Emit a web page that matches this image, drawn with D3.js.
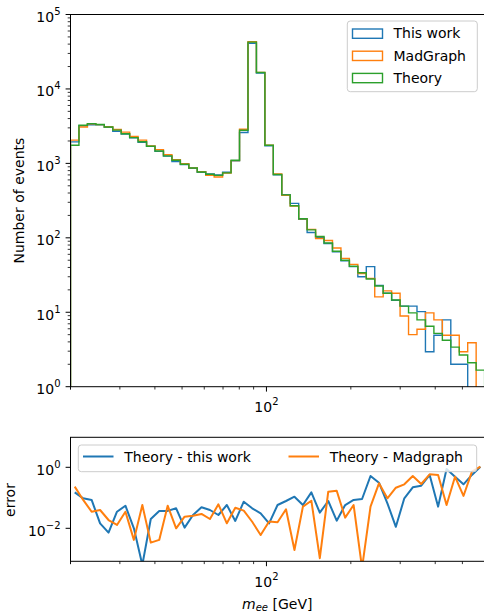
<!DOCTYPE html>
<html>
<head>
<meta charset="utf-8">
<script src="https://cdn.jsdelivr.net/npm/d3@7"></script>
<style>
  html, body { margin: 0; padding: 0; background: #fff; }
  svg { display: block; font-family: "DejaVu Sans", sans-serif; }
</style>
</head>
<body>
<svg id="chart" width="484" height="614"></svg>
<script>
// m_ee histogram (log bins 20..600 GeV) + relative error panel

const BIN_MIN = 20;
const BIN_MAX = 600;
const N_BINS = 49;

// counts per bin
const thisWork = [
  1945, 3200, 3300, 3300, 3050, 2700, 2480, 2200, 1920, 1690,
  1450, 1250, 1060, 965, 860, 760, 720, 700, 760, 1080,
  2600, 41000, 16400, 1720, 700, 380, 290, 178, 118, 101,
  84, 65, 49, 41, 30, 41, 23, 18, 14.5, 12.1,
  12.1, 10.2, 2.95, 4.9, 7.9, 2, 2, 0, 0
];
const madGraph = [
  2050, 3080, 3400, 3320, 3100, 2850, 2630, 2300, 2050, 1720,
  1530, 1310, 1120, 990, 870, 775, 690, 655, 740, 1090,
  2880, 43000, 16700, 1760, 720, 372, 268, 180, 130, 98,
  92, 73, 53, 44, 33, 28.5, 16.1, 19.4, 18, 8.9,
  5.0, 5.9, 9.8, 7.9, 4.9, 4.9, 2.95, 3.9, 0
];
const theory = [
  1750, 3260, 3420, 3330, 3080, 2800, 2500, 2220, 1950, 1700,
  1470, 1260, 1100, 975, 865, 765, 715, 690, 745, 1100,
  2790, 42500, 16600, 1750, 710, 378, 270, 180, 128, 104,
  85, 66, 50, 41.5, 34, 28, 22.5, 18, 14.6, 12.1,
  9.8, 7.9, 6.5, 5.2, 4.2, 3.4, 2.66, 2.1, 1.67
];

// error per bin (bottom panel)
const errThisWork = [
  0.151, 0.0962, 0.0851, 0.0145, 0.00724, 0.035, 0.055, 0.010, 0.00063, 0.0202,
  0.0372, 0.0372, 0.0452, 0.0105, 0.0273, 0.049, 0.0398, 0.0273, 0.058, 0.0174,
  0.0745, 0.0452, 0.0309, 0.0145, 0.058, 0.0785, 0.109, 0.058, 0.151, 0.0326,
  0.0785, 0.0178, 0.058, 0.0851, 0.0912, 0.519, 0.313, 0.066, 0.0112, 0.0962,
  0.221, 0.249, 0.56, 0.0513, 0.879, 0.492, 0.277, 0.562, 1.05
];
const errMadGraph = [
  0.232, 0.0851, 0.035, 0.0398, 0.0187, 0.0129, 0.035, 0.00417, 0.058, 0.00339,
  0.00417, 0.055, 0.010, 0.024, 0.0259, 0.0295, 0.0202, 0.0612, 0.0146, 0.0474,
  0.038, 0.0164, 0.006, 0.0166, 0.0158, 0.042, 0.00195, 0.0513, 0.0804, 0.00105,
  0.158, 0.171, 0.0224, 0.058, 0.0005, 0.0513, 0.299, 0.0962, 0.214, 0.277,
  0.519, 0.284, 0.589, 0.562, 0.058, 0.492, 0.115, 0.718, 1.05
];

const C_BLUE = "#1f77b4";
const C_ORANGE = "#ff7f0e";
const C_GREEN = "#2ca02c";

const histSeries = [
  { name: "This work", values: thisWork, color: C_BLUE },
  { name: "MadGraph", values: madGraph, color: C_ORANGE },
  { name: "Theory", values: theory, color: C_GREEN }
];
const errSeries = [
  { name: "Theory - this work", values: errThisWork, color: C_BLUE },
  { name: "Theory - Madgraph", values: errMadGraph, color: C_ORANGE }
];

(function () {
  // bin edges + geometric centres
  const edges = d3.range(N_BINS + 1).map(i => BIN_MIN * Math.pow(BIN_MAX / BIN_MIN, i / N_BINS));
  const centers = d3.range(N_BINS).map(i => Math.sqrt(edges[i] * edges[i + 1]));

  // layout
  const L = 70.5, R = 484.6;
  const T1 = 14.5, B1 = 386.7;
  const T2 = 437.3, B2 = 561.3;
  const FS = 14;

  const svg = d3.select("#chart");

  const x = d3.scaleLog().domain([BIN_MIN, BIN_MAX]).range([L, R]);
  const yTop = d3.scaleLog().domain([1, 1e5]).range([B1, T1]);
  const yBot = d3.scaleLog().domain([Math.pow(10, -3.082), Math.pow(10, 0.984)]).range([B2, T2]);

  const defs = svg.append("defs");
  defs.append("clipPath").attr("id", "clipTop")
    .append("rect").attr("x", L).attr("y", T1).attr("width", R - L).attr("height", B1 - T1);
  defs.append("clipPath").attr("id", "clipBot")
    .append("rect").attr("x", L).attr("y", T2).attr("width", R - L).attr("height", B2 - T2);

  function sciLabel(g, px, py, exp, anchor) {
    const t = g.append("text")
      .attr("x", px).attr("y", py)
      .attr("text-anchor", anchor)
      .attr("font-size", FS)
      .attr("fill", "#000");
    t.append("tspan").text("10");
    t.append("tspan")
      .attr("font-size", 10)
      .attr("dy", -7)
      .text(exp < 0 ? "\u2212" + (-exp) : String(exp));
  }

  function minorValues(lo, hi) {
    const out = [];
    for (let e = lo; e < hi; e++) {
      for (let m = 2; m <= 9; m++) out.push(m * Math.pow(10, e));
    }
    return out;
  }

  // x ticks for a panel
  function drawXTicks(bottom) {
    const g = svg.append("g");
    const minor = [20].concat(minorValues(1, 3)).filter(v => v >= BIN_MIN && v <= BIN_MAX);
    minor.forEach(v => {
      g.append("line").attr("x1", x(v)).attr("x2", x(v))
        .attr("y1", bottom).attr("y2", bottom + 2.8)
        .attr("stroke", "#000").attr("stroke-width", 0.8);
    });
    g.append("line").attr("x1", x(100)).attr("x2", x(100))
      .attr("y1", bottom).attr("y2", bottom + 4.9)
      .attr("stroke", "#000").attr("stroke-width", 1);
    sciLabel(g, x(100), bottom + 25.4, 2, "middle");
  }

  // ---------- top panel ----------
  const topPanel = svg.append("g");

  minorValues(0, 5).forEach(v => {
    topPanel.append("line").attr("x1", L - 2.8).attr("x2", L)
      .attr("y1", yTop(v)).attr("y2", yTop(v))
      .attr("stroke", "#000").attr("stroke-width", 0.8);
  });
  d3.range(0, 6).forEach(e => {
    const yy = yTop(Math.pow(10, e));
    topPanel.append("line").attr("x1", L - 4.9).attr("x2", L)
      .attr("y1", yy).attr("y2", yy)
      .attr("stroke", "#000").attr("stroke-width", 1);
    sciLabel(topPanel, L - 10, yy + 7.5, e, "end");
  });

  // step histograms (zero bins drop below the frame)
  const yFloor = B1 + 4;
  function stepPath(values) {
    const yOf = v => (v > 0 ? yTop(v) : yFloor);
    const pts = [[x(edges[0]), yFloor]];
    values.forEach((v, i) => {
      pts.push([x(edges[i]), yOf(v)], [x(edges[i + 1]), yOf(v)]);
    });
    pts.push([x(edges[N_BINS]), yFloor]);
    return d3.line()(pts);
  }

  topPanel.append("g").attr("clip-path", "url(#clipTop)")
    .selectAll("path")
    .data(histSeries)
    .join("path")
    .attr("d", d => stepPath(d.values))
    .attr("fill", "none")
    .attr("stroke", d => d.color)
    .attr("stroke-width", 1.4);

  topPanel.append("rect")
    .attr("x", L).attr("y", T1).attr("width", R - L).attr("height", B1 - T1)
    .attr("fill", "none").attr("stroke", "#000").attr("stroke-width", 1);

  drawXTicks(B1);

  topPanel.append("text")
    .attr("transform", `translate(23.5,${(T1 + B1) / 2}) rotate(-90)`)
    .attr("text-anchor", "middle")
    .attr("font-size", FS)
    .text("Number of events");

  // legend (top)
  const lg = topPanel.append("g");
  lg.append("rect")
    .attr("x", 347.3).attr("y", 21).attr("width", 130).attr("height", 70.7)
    .attr("rx", 3).attr("fill", "#fff").attr("fill-opacity", 0.8)
    .attr("stroke", "#cccccc").attr("stroke-width", 1);
  histSeries.forEach((s, i) => {
    const base = 38.3 + i * 22.2;
    lg.append("rect")
      .attr("x", 352.5).attr("y", base - 9.3).attr("width", 30).attr("height", 9.3)
      .attr("fill", "none").attr("stroke", s.color).attr("stroke-width", 1.4);
    lg.append("text")
      .attr("x", 393.5).attr("y", base)
      .attr("font-size", FS)
      .text(s.name);
  });

  // ---------- bottom panel ----------
  const botPanel = svg.append("g");

  [0, -2].forEach(e => {
    const yy = yBot(Math.pow(10, e));
    botPanel.append("line").attr("x1", L - 4.9).attr("x2", L)
      .attr("y1", yy).attr("y2", yy)
      .attr("stroke", "#000").attr("stroke-width", 1);
    sciLabel(botPanel, L - 10, yy + 7.5, e, "end");
  });

  const errLine = d3.line()
    .x((d, i) => x(centers[i]))
    .y(d => yBot(d));

  botPanel.append("g").attr("clip-path", "url(#clipBot)")
    .selectAll("path")
    .data(errSeries)
    .join("path")
    .attr("d", d => errLine(d.values))
    .attr("fill", "none")
    .attr("stroke", d => d.color)
    .attr("stroke-width", 2)
    .attr("stroke-linejoin", "round");

  // legend (bottom)
  const lg2 = botPanel.append("g");
  lg2.append("rect")
    .attr("x", 78.3).attr("y", 445).attr("width", 398.4).attr("height", 26.7)
    .attr("rx", 3).attr("fill", "#fff").attr("fill-opacity", 0.8)
    .attr("stroke", "#cccccc").attr("stroke-width", 1);
  const lg2Pos = [83, 288.5];
  errSeries.forEach((s, i) => {
    const x0 = lg2Pos[i];
    lg2.append("line")
      .attr("x1", x0).attr("x2", x0 + 30.5)
      .attr("y1", 456.5).attr("y2", 456.5)
      .attr("stroke", s.color).attr("stroke-width", 2);
    lg2.append("text")
      .attr("x", x0 + 41.3).attr("y", 461.7)
      .attr("font-size", FS)
      .text(s.name);
  });

  botPanel.append("rect")
    .attr("x", L).attr("y", T2).attr("width", R - L).attr("height", B2 - T2)
    .attr("fill", "none").attr("stroke", "#000").attr("stroke-width", 1);

  drawXTicks(B2);

  botPanel.append("text")
    .attr("transform", "translate(15,500) rotate(-90)")
    .attr("text-anchor", "middle")
    .attr("font-size", FS)
    .text("error");

  const xl = svg.append("text")
    .attr("x", (L + 484) / 2).attr("y", 608.5)
    .attr("text-anchor", "middle")
    .attr("font-size", FS);
  xl.append("tspan").attr("font-style", "italic").text("m");
  xl.append("tspan").attr("font-size", 10).attr("dy", 2.5).attr("font-style", "italic").text("ee");
  xl.append("tspan").attr("dy", -2.5).text(" [GeV]");
})();
</script>
</body>
</html>
